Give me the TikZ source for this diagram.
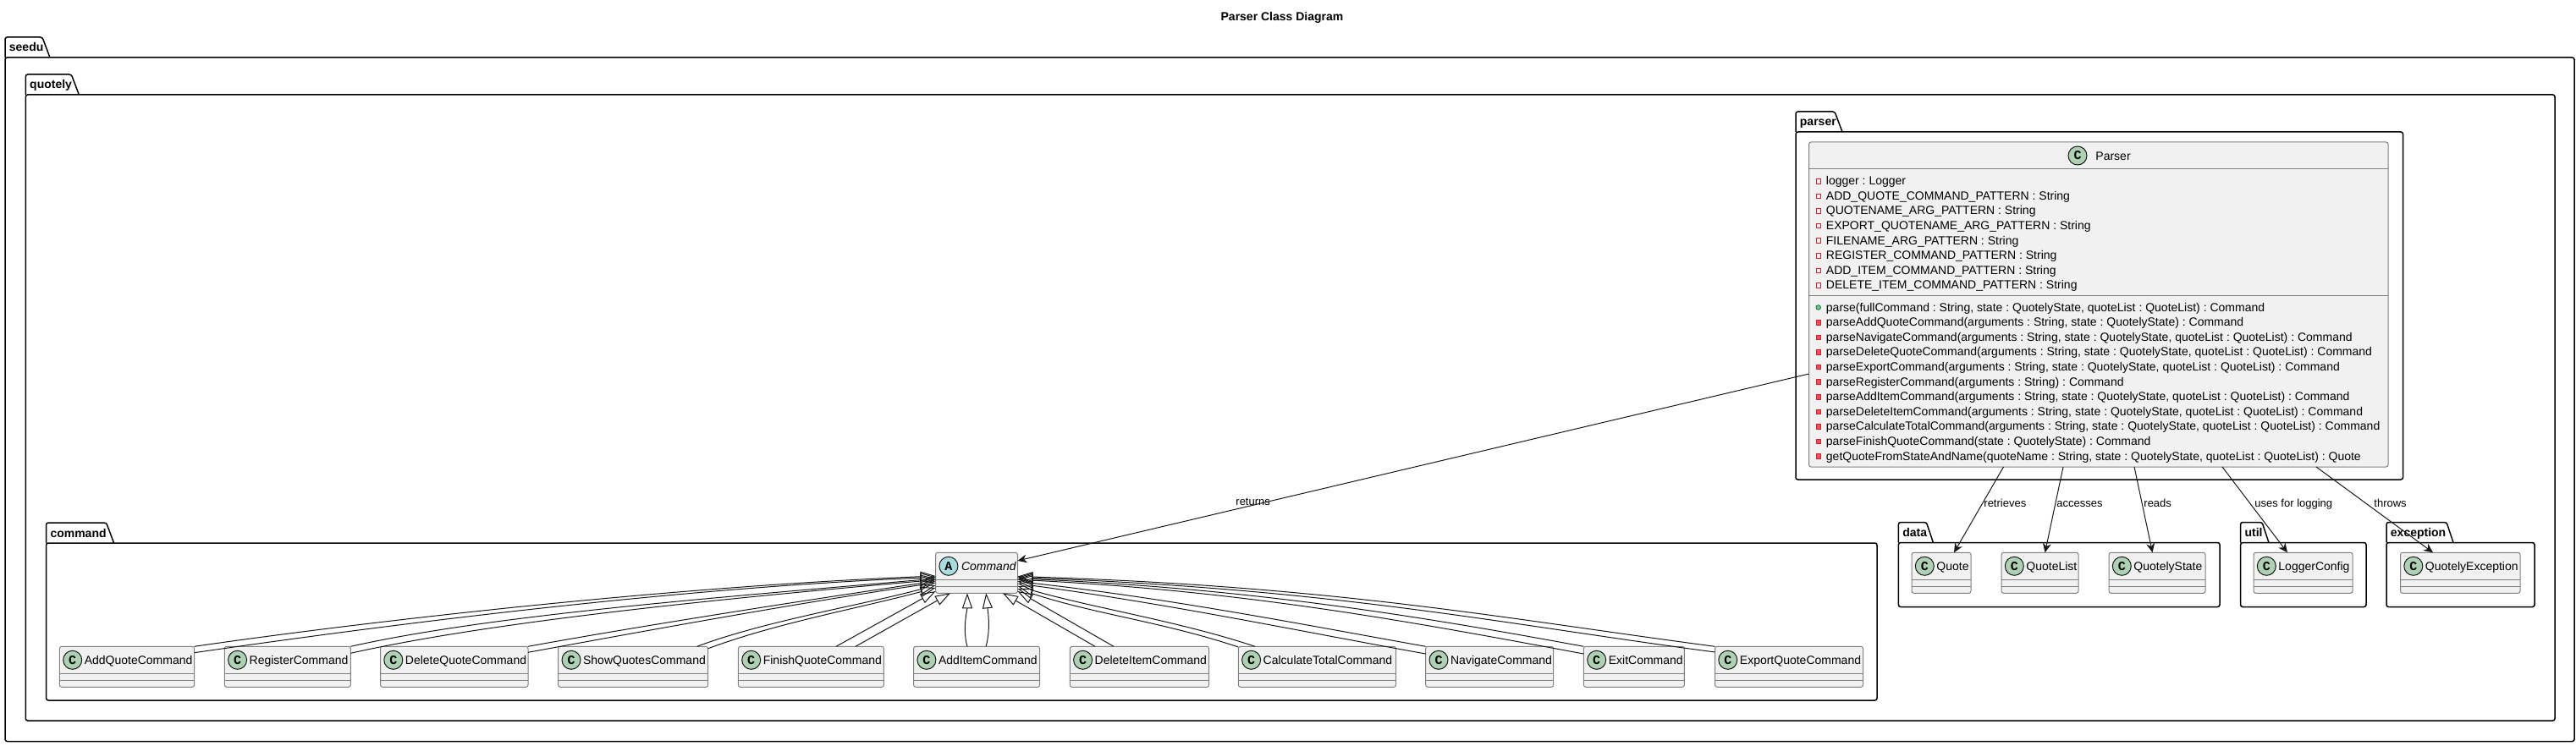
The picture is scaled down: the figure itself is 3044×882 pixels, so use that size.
\documentclass[tikz,border=0pt]{standalone}
\usepackage{fontspec}
\setmainfont{Liberation Sans}
\newfontfamily\spotfont{Liberation Mono}
\usetikzlibrary{positioning}
\usetikzlibrary{arrows.meta}
\usetikzlibrary{calc}
\definecolor{classfill}{HTML}{F1F1F1}
\definecolor{classline}{HTML}{808080}
\definecolor{spotgreen}{HTML}{ADD1B2}
\definecolor{spotblue}{HTML}{A9DCDF}
\definecolor{privline}{HTML}{C82930}
\definecolor{privfill}{HTML}{F24D5C}
\definecolor{publine}{HTML}{038048}
\definecolor{pubfill}{HTML}{84BE84}
\definecolor{edgeline}{HTML}{181818}

\begin{document}
\frenchspacing
\begin{tikzpicture}[
x=0.5pt, y=-0.5pt,
boxw/.style={minimum width=#1*0.5pt},
boxh/.style={minimum height=#1*0.5pt},
packagenode/.style={rectangle, draw=black, line width=0.75pt, rounded corners=1.25pt, anchor=north west, inner sep=0pt, outer sep=0pt},
packagetab/.style={draw=black, line width=0.75pt, rounded corners=1.25pt},
packagelabel/.style={anchor=base west, inner sep=0pt, font=\fontsize{7pt}{8pt}\selectfont\bfseries},
classnode/.style={rectangle, draw=classline, fill=classfill, line width=0.5pt, rounded corners=1.25pt, anchor=north west, inner sep=0pt, outer sep=0pt, boxh=48},
classsep/.style={draw=classline, line width=0.5pt},
classlabel/.style={anchor=base west, inner sep=0pt, font=\fontsize{7pt}{8pt}\selectfont},
abstractlabel/.style={anchor=base west, inner sep=0pt, font=\fontsize{7pt}{8pt}\selectfont\itshape},
memberlabel/.style={anchor=base west, inner sep=0pt, font=\fontsize{7pt}{8pt}\selectfont},
spotnode/.style={circle, draw=edgeline, line width=0.5pt, fill=spotgreen, minimum size=11pt, inner sep=0pt, font=\fontsize{7.5pt}{8pt}\spotfont\bfseries},
fieldicon/.style={rectangle, draw=privline, line width=0.4pt, minimum size=2.8pt, inner sep=0pt},
privicon/.style={rectangle, draw=privline, fill=privfill, line width=0.4pt, minimum size=2.8pt, inner sep=0pt},
pubicon/.style={circle, draw=publine, fill=pubfill, line width=0.4pt, minimum size=2.8pt, inner sep=0pt},
inherit/.style={draw=edgeline, line width=0.5pt, -{Triangle[open, length=9pt, width=6pt]}},
depends/.style={draw=edgeline, line width=0.5pt, -{Stealth[length=5.5pt, width=5pt, inset=1.8pt]}},
edgelabel/.style={anchor=base west, inner sep=0pt, font=\fontsize{6.5pt}{8pt}\selectfont},
]
\useasboundingbox (0,0) rectangle (3044,882);

\node[anchor=base, inner sep=0pt, font=\fontsize{7pt}{8pt}\selectfont\bfseries] at (1515,25) (title) {Parser Class Diagram};

%Packages
\node[packagenode]  at (6,68)        (seedu)      [boxw=3036, boxh=808.5] {};
\node[packagenode]  at (30.3,112)    (quotely)    [boxw=2988.7, boxh=740] {};
\node[packagenode]  at (2122,156)    (parser)     [boxw=717.5, boxh=411] {};
\node[packagenode]  at (54.6,642)    (command)    [boxw=2163.4, boxh=186] {};
\node[packagenode]  at (2243.4,641.5) (data)      [boxw=379.6, boxh=76] {};
\node[packagenode]  at (2647.6,641.5) (util)      [boxw=148.4, boxh=76] {};
\node[packagenode]  at (2820,641.5)  (exception)  [boxw=175, boxh=76] {};

\draw[packagetab] (seedu.north west) |- ++(44,-24) -- ++(9,24);
\draw[packagetab] (quotely.north west) |- ++(54,-24) -- ++(9,24);
\draw[packagetab] (parser.north west) |- ++(46,-24) -- ++(9,24);
\draw[packagetab] (command.north west) |- ++(71,-24) -- ++(9,24);
\draw[packagetab] (data.north west) |- ++(33,-24) -- ++(8,24);
\draw[packagetab] (util.north west) |- ++(25.4,-24) -- ++(8,24);
\draw[packagetab] (exception.north west) |- ++(71,-24) -- ++(8,24);

\foreach \pkg in {seedu,quotely,parser,command,data,util,exception}
    \node[packagelabel] at ($(\pkg.north west)+(4.5,-7)$) (\pkg_label) {\pkg};

%Classes
\node[classnode]  at (2137.5,168)   (class_parser)       [boxw=684.5, boxh=384] {};
\node[classnode]  at (1105.6,653.3) (class_command)      [boxw=96.9] {};

\node[classnode]  at (2259,653.3)   (quote)              [boxw=70] {};
\node[classnode]  at (2365,653.3)   (quotelist)          [boxw=91] {};
\node[classnode]  at (2492,653.3)   (quotelystate)       [boxw=114] {};
\node[classnode]  at (2663,653.3)   (loggerconfig)       [boxw=117] {};
\node[classnode]  at (2836.5,653.3) (quotelyexception)   [boxw=141.5] {};

\node[classnode]  at (70.4,764.3)   (addquote)           [boxw=159.2] {};
\node[classnode]  at (265.3,764.3)  (register)           [boxw=149] {};
\node[classnode]  at (449.5,764.3)  (deletequote)        [boxw=174.5] {};
\node[classnode]  at (659.7,764.3)  (showquotes)         [boxw=177] {};
\node[classnode]  at (872.4,764.3)  (finishquote)        [boxw=172] {};
\node[classnode]  at (1079.6,764.3) (additem)            [boxw=149] {};
\node[classnode]  at (1264.3,764.3) (deleteitem)         [boxw=164.3] {};
\node[classnode]  at (1463.3,764.3) (calculatetotal)     [boxw=186.2] {};
\node[classnode]  at (1684.7,764.3) (navigate)           [boxw=151] {};
\node[classnode]  at (1871.4,764.3) (exit)               [boxw=118.9] {};
\node[classnode]  at (2026.5,764.3) (exportquote)        [boxw=175] {};

\foreach \cls/\txt in {quote/Quote, quotelist/QuoteList, quotelystate/QuotelyState, loggerconfig/LoggerConfig, quotelyexception/QuotelyException, addquote/AddQuoteCommand, register/RegisterCommand, deletequote/DeleteQuoteCommand, showquotes/ShowQuotesCommand, finishquote/FinishQuoteCommand, additem/AddItemCommand, deleteitem/DeleteItemCommand, calculatetotal/CalculateTotalCommand, navigate/NavigateCommand, exit/ExitCommand, exportquote/ExportQuoteCommand} {
    \node[spotnode] at ($(\cls.north west)+(15.3,16)$) (\cls_spot) {C};
    \node[classlabel] at ($(\cls.north west)+(29,21.5)$) (\cls_label) {\txt};
    \draw[classsep] ($(\cls.north west)+(0,32)$) -- ($(\cls.north east)+(0,32)$);
    \draw[classsep] ($(\cls.north west)+(0,40)$) -- ($(\cls.north east)+(0,40)$);
}

\node[spotnode, fill=spotblue] at ($(class_command.north west)+(15.3,16)$) (class_command_spot) {A};
\node[abstractlabel] at ($(class_command.north west)+(30,21.5)$) (class_command_label) {Command};
\draw[classsep] ($(class_command.north west)+(0,32)$) -- ($(class_command.north east)+(0,32)$);
\draw[classsep] ($(class_command.north west)+(0,40)$) -- ($(class_command.north east)+(0,40)$);

\node[spotnode] at (2455,184) (class_parser_spot) {C};
\node[classlabel] at (2476,189.7) (class_parser_label) {Parser};
\draw[classsep] (class_parser.west |- 0,200) -- (class_parser.east |- 0,200);
\draw[classsep] (class_parser.west |- 0,349) -- (class_parser.east |- 0,349);

%Members
\node[memberlabel] at (2157.5,218.7) (field_logger)     {logger : Logger};
\node[memberlabel] at (2157.5,236.3) (field_addquote)   {ADD\_QUOTE\_COMMAND\_PATTERN : String};
\node[memberlabel] at (2157.5,253.9) (field_quotename)  {QUOTENAME\_ARG\_PATTERN : String};
\node[memberlabel] at (2157.5,271.5) (field_export)     {EXPORT\_QUOTENAME\_ARG\_PATTERN : String};
\node[memberlabel] at (2157.5,289.1) (field_filename)   {FILENAME\_ARG\_PATTERN : String};
\node[memberlabel] at (2157.5,306.7) (field_register)   {REGISTER\_COMMAND\_PATTERN : String};
\node[memberlabel] at (2157.5,324.3) (field_additem)    {ADD\_ITEM\_COMMAND\_PATTERN : String};
\node[memberlabel] at (2157.5,341.9) (field_deleteitem) {DELETE\_ITEM\_COMMAND\_PATTERN : String};

\node[memberlabel] at (2157.5,368)   (method_parse)        {parse(fullCommand : String, state : QuotelyState, quoteList : QuoteList) : Command};
\node[memberlabel] at (2157.5,385.6) (method_addquote)     {parseAddQuoteCommand(arguments : String, state : QuotelyState) : Command};
\node[memberlabel] at (2157.5,403.2) (method_navigate)     {parseNavigateCommand(arguments : String, state : QuotelyState, quoteList : QuoteList) : Command};
\node[memberlabel] at (2157.5,420.8) (method_deletequote)  {parseDeleteQuoteCommand(arguments : String, state : QuotelyState, quoteList : QuoteList) : Command};
\node[memberlabel] at (2157.5,438.4) (method_export)       {parseExportCommand(arguments : String, state : QuotelyState, quoteList : QuoteList) : Command};
\node[memberlabel] at (2157.5,456)   (method_register)     {parseRegisterCommand(arguments : String) : Command};
\node[memberlabel] at (2157.5,473.6) (method_additem)      {parseAddItemCommand(arguments : String, state : QuotelyState, quoteList : QuoteList) : Command};
\node[memberlabel] at (2157.5,491.2) (method_deleteitem)   {parseDeleteItemCommand(arguments : String, state : QuotelyState, quoteList : QuoteList) : Command};
\node[memberlabel] at (2157.5,508.8) (method_calculate)    {parseCalculateTotalCommand(arguments : String, state : QuotelyState, quoteList : QuoteList) : Command};
\node[memberlabel] at (2157.5,526.4) (method_finish)       {parseFinishQuoteCommand(state : QuotelyState) : Command};
\node[memberlabel] at (2157.5,544)   (method_getquote)     {getQuoteFromStateAndName(quoteName : String, state : QuotelyState, quoteList : QuoteList) : Quote};

\foreach \m in {field_logger,field_addquote,field_quotename,field_export,field_filename,field_register,field_additem,field_deleteitem}
    \node[fieldicon] at ($(\m.base west)+(-8.8,-4.5)$) (icon_\m) {};
\foreach \m in {method_addquote,method_navigate,method_deletequote,method_export,method_register,method_additem,method_deleteitem,method_calculate,method_finish,method_getquote}
    \node[privicon] at ($(\m.base west)+(-8.8,-4.5)$) (icon_\m) {};
\node[pubicon] at ($(method_parse.base west)+(-8.8,-4.5)$) (icon_method_parse) {};

%Lines
\draw[depends] ($(class_parser.south west)+(0,-110)$) -- ($(class_command.north east)+(0,9.7)$);
\node[edgelabel] at (1460,597) (label_returns) {returns};

\draw[depends] ($(class_parser.south west)+(230,0)$) -- ($(quote.north west)+(50,0)$);
\draw[depends] ($(class_parser.south west)+(300.5,0)$) -- ($(quotelist.north west)+(51.5,0)$);
\draw[depends] ($(class_parser.south west)+(384.5,0)$) -- ($(quotelystate.north west)+(51.5,0)$);
\draw[depends] ($(class_parser.south west)+(488.5,0)$) -- ($(loggerconfig.north west)+(40,0)$);
\draw[depends] ($(class_parser.south west)+(599.5,0)$) -- ($(quotelyexception.north west)+(38.5,0)$);
\node[edgelabel] at (2344,599) (label_retrieves) {retrieves};
\node[edgelabel] at (2430,599) (label_accesses)  {accesses};
\node[edgelabel] at (2533,599) (label_reads)     {reads};
\node[edgelabel] at (2664,599) (label_logging)   {uses for logging};
\node[edgelabel] at (2805,599) (label_throws)    {throws};

% left side of Command
\draw[inherit] (addquote.north east) .. controls +(200,-29) and +(-320,13) .. ($(class_command.north west)+(0,27.7)$);
\draw[inherit] ($(addquote.north east)+(0,7.4)$) .. controls +(200,-29) and +(-320,13) .. ($(class_command.north west)+(0,29.2)$);
\draw[inherit] (register.north east) .. controls +(170,-38) and +(-250,22) .. ($(class_command.north west)+(0,30.7)$);
\draw[inherit] ($(register.north east)+(0,8)$) .. controls +(170,-38) and +(-250,22) .. ($(class_command.north west)+(0,32.2)$);
\draw[inherit] (deletequote.north east) .. controls +(120,-22) and +(-170,25) .. ($(class_command.north west)+(0,33.7)$);
\draw[inherit] ($(deletequote.north east)+(0,7)$) .. controls +(120,-22) and +(-170,25) .. ($(class_command.north west)+(0,35.7)$);
\draw[inherit] ($(showquotes.north east)+(-13,0)$) .. controls +(80,-30) and +(-90,24) .. ($(class_command.north west)+(0,38.7)$);
\draw[inherit] ($(showquotes.north east)+(0,2.5)$) .. controls +(80,-30) and +(-90,24) .. ($(class_command.north west)+(0,41.7)$);
\draw[inherit] ($(finishquote.north west)+(115.6,0)$) -- ($(class_command.south west)+(0,-2.3)$);
\draw[inherit] ($(finishquote.north west)+(138.6,0)$) -- ($(class_command.south west)+(17.4,0)$);

% below Command
\draw[inherit] ($(additem.north west)+(63.4,0)$) .. controls +(-6,-20) and +(0,18) .. ($(class_command.south west)+(37.4,0)$);
\draw[inherit] ($(additem.north west)+(85.4,0)$) .. controls +(6,-20) and +(2,20) .. ($(class_command.south west)+(59.6,0)$);
\draw[inherit] ($(deleteitem.north west)+(29.7,0)$) -- ($(class_command.south west)+(79.4,0)$);
\draw[inherit] ($(deleteitem.north west)+(51.7,0)$) -- ($(class_command.south east)+(0,-2.3)$);

% right side of Command
\draw[inherit] ($(calculatetotal.north west)+(0,0.7)$) .. controls +(-90,-30) and +(90,30) .. ($(class_command.north east)+(0,42.7)$);
\draw[inherit] ($(calculatetotal.north west)+(19.7,0)$) .. controls +(-90,-30) and +(90,26) .. ($(class_command.north east)+(0,39.7)$);
\draw[inherit] ($(navigate.north west)+(0,8.7)$) .. controls +(-140,-25) and +(180,24) .. ($(class_command.north east)+(0,36.7)$);
\draw[inherit] (navigate.north west) .. controls +(-140,-25) and +(180,20) .. ($(class_command.north east)+(0,34.2)$);
\draw[inherit] ($(exit.north west)+(0,8.7)$) .. controls +(-190,-35) and +(280,14) .. ($(class_command.north east)+(0,32)$);
\draw[inherit] (exit.north west) .. controls +(-190,-35) and +(280,12) .. ($(class_command.north east)+(0,30.7)$);
\draw[inherit] ($(exportquote.north west)+(0,6.7)$) .. controls +(-250,-33) and +(380,14) .. ($(class_command.north east)+(0,29.4)$);
\draw[inherit] (exportquote.north west) .. controls +(-250,-33) and +(380,12) .. ($(class_command.north east)+(0,28.2)$);

\end{tikzpicture}
\end{document}
